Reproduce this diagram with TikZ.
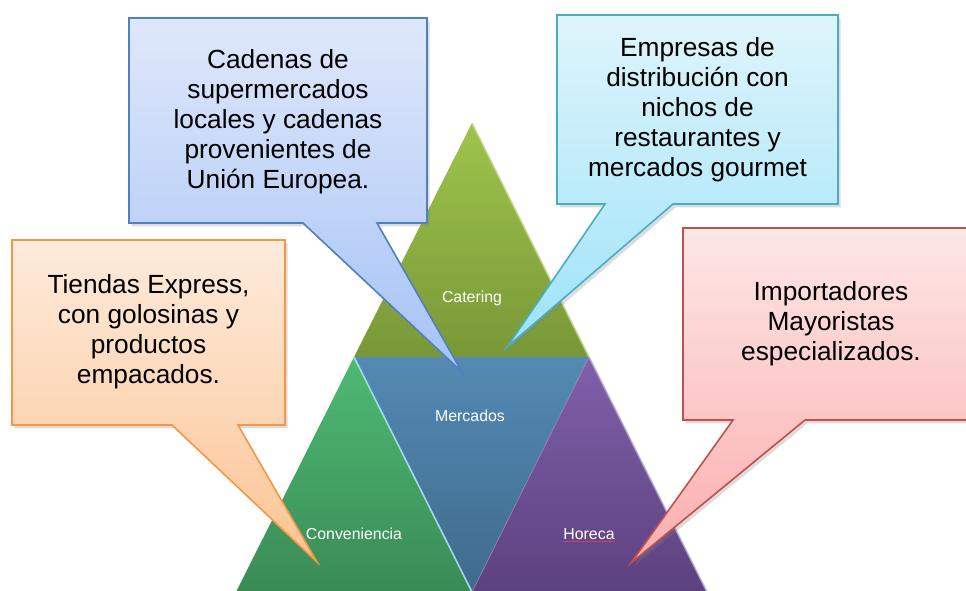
\documentclass[tikz,border=0pt]{standalone}
\usepackage{fontspec}
\setmainfont{Liberation Sans}
\usetikzlibrary{shadows}
\definecolor{catT}{HTML}{9FC44C}
\definecolor{catB}{HTML}{789837}
\definecolor{merT}{HTML}{548AB4}
\definecolor{merB}{HTML}{3F6A8C}
\definecolor{conT}{HTML}{4EBA73}
\definecolor{conB}{HTML}{3A8B56}
\definecolor{horT}{HTML}{8060AA}
\definecolor{horB}{HTML}{5C417F}
\definecolor{orT}{HTML}{FDEBDC}
\definecolor{orB}{HTML}{FCC493}
\definecolor{orD}{HTML}{F79646}
\definecolor{blT}{HTML}{DFE8FA}
\definecolor{blB}{HTML}{A6C2F6}
\definecolor{blD}{HTML}{4F81BD}
\definecolor{cyT}{HTML}{DFF4FB}
\definecolor{cyB}{HTML}{9DE3F9}
\definecolor{cyD}{HTML}{4BACC6}
\definecolor{rdT}{HTML}{FDE6E6}
\definecolor{rdB}{HTML}{FBAEAE}
\definecolor{rdD}{HTML}{C0504D}
\definecolor{spell}{HTML}{D0405A}
\tikzset{
  seglabel/.style={text=white, font=\fontsize{11.9}{14}\selectfont, inner sep=0pt},
  calltext/.style={align=center, font=\fontsize{19.7}{22.5}\selectfont, text=black, inner sep=0pt},
  callout/.style={line width=1.2pt, line join=miter,
    drop shadow={opacity=0.28, shadow xshift=2pt, shadow yshift=-2.5pt}},
  edgehl/.style={line width=1.2pt, opacity=0.8}
}
\begin{document}
\begin{tikzpicture}[x=0.75pt, y=-0.75pt]
\useasboundingbox (0,0) rectangle (966,590);
\begin{scope}
\clip (0,0) rectangle (966,590);
% triangle vertices
\coordinate (apex) at (472,123);
\coordinate (ml) at (354,357);
\coordinate (mr) at (589,357);
\coordinate (bl) at (236,592);
\coordinate (bm) at (472,592);
\coordinate (br) at (707,592);
% segments
\shade[top color=catT, bottom color=catB] (apex) -- (mr) -- (ml) -- cycle;
\shade[top color=conT, bottom color=conB] (ml) -- (bm) -- (bl) -- cycle;
\shade[top color=merT, bottom color=merB] (ml) -- (mr) -- (bm) -- cycle;
\shade[top color=horT, bottom color=horB] (mr) -- (br) -- (bm) -- cycle;
% edge highlights
\draw[edgehl, color=catT!60!white] (apex) -- (mr);
\draw[edgehl, color=cyB!70!white] (ml) -- (bm);
\draw[edgehl, color=horT!55!white] (mr) -- (br);
\draw[line width=0.6pt, color=horT!70!white, opacity=0.6] (mr) -- (bm);
% segment labels
\node[seglabel] (catering) at (472,298) {Catering};
\node[seglabel] (mercados) at (470,416) {Mercados};
\node[seglabel] (conv) at (354,534) {Conveniencia};
\node[seglabel] (horeca) at (589,534) {Horeca};
\draw[spell, line width=0.8pt] ([yshift=-1.2pt]horeca.south west) -- ([yshift=-1.2pt]horeca.south east);
% callouts
\path[callout, draw=orD, top color=orT, bottom color=orB]
  (12,240) -- (285,240) -- (285,425) -- (238,425) -- (317,562) -- (172,425) -- (12,425) -- cycle;
\node[calltext] (tiendas) at (148.5,332) {Tiendas Express,\\con golosinas y\\productos\\empacados.};
\path[callout, draw=blD, top color=blT, bottom color=blB]
  (129,18) -- (427,18) -- (427,223) -- (377,223) -- (462,372) -- (303,223) -- (129,223) -- cycle;
\node[calltext] (cadenas) at (278,122) {Cadenas de\\supermercados\\locales y cadenas\\provenientes de\\Unión Europea.};
\path[callout, draw=cyD, top color=cyT, bottom color=cyB]
  (557,15) -- (838,15) -- (838,204) -- (673,204) -- (507,347) -- (605,204) -- (557,204) -- cycle;
\node[calltext] (empresas) at (697.5,110) {Empresas de\\distribución con\\nichos de\\restaurantes y\\mercados gourmet};
\path[callout, draw=rdD, top color=rdT, bottom color=rdB]
  (683,228) -- (980,228) -- (980,420) -- (805,420) -- (631,563) -- (733,420) -- (683,420) -- cycle;
\node[calltext] (import) at (831,324) {Importadores\\Mayoristas\\especializados.};
\end{scope}
\end{tikzpicture}
\end{document}
